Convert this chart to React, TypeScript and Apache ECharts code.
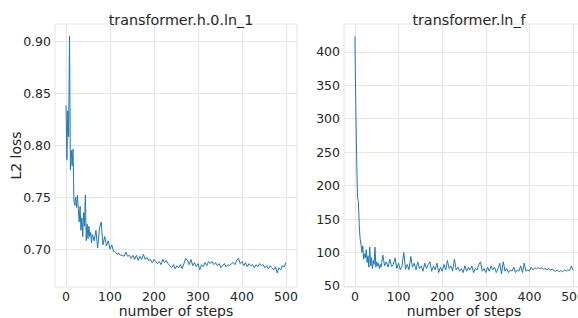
import React, { useEffect, useRef } from "react";
import * as echarts from "echarts";

// Step sampling: every 2 steps up to 60, then every 4 steps up to 500
const earlySteps: number[] = [];
for (let s = 0; s <= 60; s += 2) earlySteps.push(s);
const lateSteps: number[] = [];
for (let s = 64; s <= 500; s += 4) lateSteps.push(s);
const steps = [...earlySteps, ...lateSteps];

const ln1Loss = [
  0.838, 0.786, 0.833, 0.808, 0.905, 0.776, 0.795, 0.78, 0.796, 0.746,
  0.742, 0.75, 0.74, 0.752, 0.738, 0.726, 0.741, 0.718, 0.73, 0.712,
  0.735, 0.722, 0.752, 0.708, 0.724, 0.71, 0.722, 0.712, 0.716, 0.706,
  0.714,
  0.708, 0.718, 0.701, 0.72, 0.726, 0.704, 0.712, 0.703, 0.708, 0.7,
  0.704, 0.698, 0.697, 0.695, 0.696, 0.694, 0.694, 0.693, 0.697, 0.693,
  0.694, 0.691, 0.694, 0.69, 0.694, 0.689, 0.693, 0.69, 0.695, 0.69,
  0.692, 0.689, 0.69, 0.687, 0.69, 0.688, 0.686, 0.688, 0.685, 0.69,
  0.687, 0.689, 0.686, 0.684, 0.682, 0.685, 0.681, 0.684, 0.682, 0.685,
  0.681, 0.686, 0.691, 0.689, 0.685, 0.69, 0.684, 0.687, 0.683, 0.686,
  0.68, 0.685, 0.683, 0.687, 0.684, 0.688, 0.686, 0.688, 0.685, 0.687,
  0.684, 0.686, 0.682, 0.684, 0.686, 0.683, 0.685, 0.684, 0.686, 0.687,
  0.685, 0.689, 0.691, 0.686, 0.688, 0.684, 0.687, 0.683, 0.686, 0.684,
  0.685, 0.682, 0.685, 0.683, 0.686, 0.684, 0.685, 0.682, 0.684, 0.681,
  0.684, 0.682, 0.68, 0.683, 0.677, 0.682, 0.68, 0.684, 0.683, 0.687,
];

const lnfLoss = [
  423, 320, 240, 183, 176, 140, 120, 112, 100, 110,
  90, 98, 92, 104, 85, 95, 78, 108, 80, 92,
  76, 88, 82, 108, 78, 86, 80, 84, 76, 82,
  78,
  96, 80, 86, 78, 90, 79, 82, 92, 76, 84,
  74, 80, 100, 75, 82, 74, 94, 78, 84, 74,
  86, 76, 80, 72, 84, 76, 82, 86, 72, 80,
  74, 84, 70, 78, 72, 82, 74, 88, 76, 80,
  72, 90, 74, 78, 72, 76, 70, 80, 72, 78,
  74, 80, 70, 76, 74, 82, 86, 72, 76, 70,
  78, 72, 80, 74, 78, 70, 76, 84, 68, 86,
  72, 76, 70, 74, 72, 78, 70, 74, 72, 80,
  70, 84, 72, 74, 72, 78, 74, 77, 76, 77,
  76, 77, 75, 76, 74, 76, 74, 75, 73, 72,
  74, 71, 73, 71, 74, 72, 74, 73, 80, 73,
];

const xTicks = [0, 100, 200, 300, 400, 500];
const leftYTicks = [0.7, 0.75, 0.8, 0.85, 0.9];
const rightYTicks = [50, 100, 150, 200, 250, 300, 350, 400];

const titles = ["transformer.h.0.ln_1", "transformer.ln_f"];
const xName = "number of steps";
const yName = "L2 loss";

const FONT = "DejaVu Sans";
const TEXT = "#262626";
const GRID = "#e6e6e6";
const TICK_SIZE = 12.5;

export default function App() {
  const ref = useRef<HTMLDivElement>(null);
  useEffect(() => {
    if (!ref.current) return;
    const chart = echarts.init(ref.current, undefined, { renderer: "svg" });
    const xAxisBase = (gi: number) => ({
      type: "value",
      gridIndex: gi,
      min: -25,
      max: 525,
      name: xName,
      nameLocation: "middle",
      nameGap: 17,
      nameMoveOverlap: false,
      nameTextStyle: { fontFamily: FONT, fontSize: 14, lineHeight: 14, color: TEXT },
      axisLine: { show: false },
      axisTick: { show: false, customValues: xTicks },
      axisLabel: {
        customValues: xTicks,
        fontFamily: FONT,
        fontSize: TICK_SIZE,
        lineHeight: 13,
        color: TEXT,
        margin: 3,
      },
      splitLine: { show: true, lineStyle: { color: GRID, width: 1 } },
    });
    const yAxisBase = (gi: number, min: number, max: number, ticks: number[], fmt: (v: number) => string) => ({
      type: "value",
      gridIndex: gi,
      min,
      max,
      axisLine: { show: false },
      axisTick: { show: false, customValues: ticks },
      axisLabel: {
        customValues: ticks,
        fontFamily: FONT,
        fontSize: TICK_SIZE,
        color: TEXT,
        margin: 4,
        formatter: fmt,
      },
      splitLine: { show: true, lineStyle: { color: GRID, width: 1 } },
    });
    chart.setOption({
      animation: false,
      backgroundColor: "#ffffff",
      title: [
        {
          text: titles[0],
          left: 176,
          top: 8,
          textAlign: "center",
          textStyle: { fontFamily: FONT, fontSize: 14.3, fontWeight: "normal", color: TEXT },
        },
        {
          text: titles[1],
          left: 464,
          top: 8,
          textAlign: "center",
          textStyle: { fontFamily: FONT, fontSize: 14.3, fontWeight: "normal", color: TEXT },
        },
      ],
      grid: [
        { left: 55, top: 24, width: 242, height: 263, show: true, borderColor: GRID, borderWidth: 1, backgroundColor: "transparent", containLabel: false, outerBoundsMode: "none" },
        { left: 344, top: 24, width: 240, height: 263, show: true, borderColor: GRID, borderWidth: 1, backgroundColor: "transparent", containLabel: false, outerBoundsMode: "none" },
      ],
      xAxis: [xAxisBase(0), xAxisBase(1)],
      yAxis: [
        {
          ...yAxisBase(0, 0.6635, 0.9165, leftYTicks, (v: number) => v.toFixed(2)),
          name: yName,
          nameLocation: "middle",
          nameGap: 32,
          nameMoveOverlap: false,
          nameTextStyle: { fontFamily: FONT, fontSize: 14, color: TEXT },
        },
        yAxisBase(1, 48.4, 441.5, rightYTicks, (v: number) => String(Math.round(v))),
      ],
      series: [
        {
          type: "line",
          xAxisIndex: 0,
          yAxisIndex: 0,
          data: steps.map((s, i) => [s, ln1Loss[i]]),
          showSymbol: false,
          symbol: "none",
          lineStyle: { color: "#1f77b4", width: 1 },
        },
        {
          type: "line",
          xAxisIndex: 1,
          yAxisIndex: 1,
          data: steps.map((s, i) => [s, lnfLoss[i]]),
          showSymbol: false,
          symbol: "none",
          lineStyle: { color: "#1f77b4", width: 1 },
        },
      ],
    });
    return () => chart.dispose();
  }, []);
  return (
    <div
      ref={ref}
      style={{ position: "absolute", left: 0, top: 0, width: 578, height: 318 }}
    />
  );
}
